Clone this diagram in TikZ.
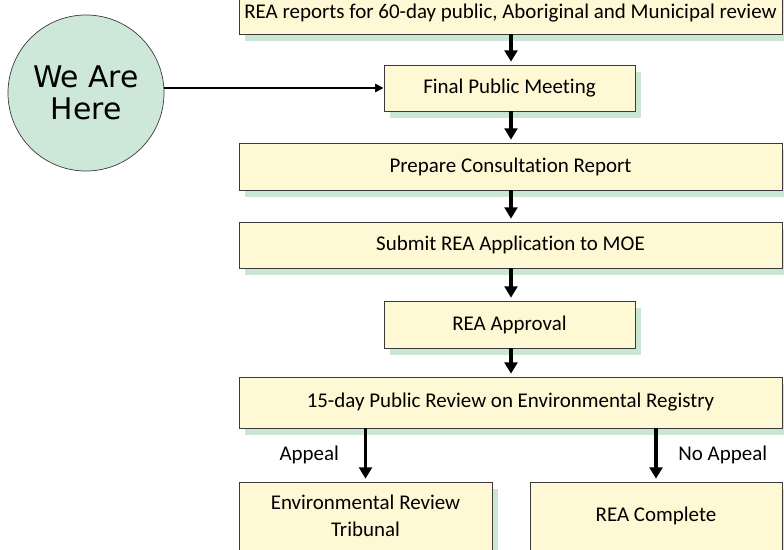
\documentclass[tikz,border=0pt]{standalone}
\usepackage{fontspec}
\setmainfont{Carlito}[Ligatures=NoCommon]
\newfontfamily\circlefont{DejaVu Sans}
\usetikzlibrary{arrows.meta,shadows}

\definecolor{boxfill}{HTML}{FFF8D4}
\definecolor{boxline}{HTML}{3A3A3A}
\definecolor{shadowgreen}{HTML}{C9E7D3}
\definecolor{herefill}{HTML}{CDE8D8}

\tikzset{
    stepbox/.style={draw=boxline, fill=boxfill, line width=0.7pt, align=center,
        font=\fontsize{14.9}{19}\selectfont, inner sep=0pt,
        drop shadow={shadow xshift=0.16cm, shadow yshift=-0.17cm, fill=shadowgreen, opacity=1}},
    flow/.style={line width=2.2pt, -{Triangle[length=8pt, width=9pt]}, shorten >=2pt},
}

\begin{document}
\begin{tikzpicture}[x=0.025cm, y=-0.025cm]
    \useasboundingbox (0,0) rectangle (784,550);
    % main column
    \node[stepbox, minimum width=543*0.025cm, minimum height=42*0.025cm] (reports) at (510.5,13)
        {REA reports for 60-day public, Aboriginal and Municipal review};
    \node[stepbox, minimum width=251*0.025cm, minimum height=46*0.025cm] (meeting) at (509.5,88)
        {Final Public Meeting};
    \node[stepbox, minimum width=543*0.025cm, minimum height=47*0.025cm] (prepare) at (510.5,166.5)
        {Prepare Consultation Report};
    \node[stepbox, minimum width=543*0.025cm, minimum height=46*0.025cm] (submit) at (510.5,245)
        {Submit REA Application to MOE};
    \node[stepbox, minimum width=251*0.025cm, minimum height=47*0.025cm] (approval) at (509.5,324.5)
        {REA Approval};
    \node[stepbox, minimum width=543*0.025cm, minimum height=51*0.025cm] (registry) at (510.5,402.5)
        {15-day Public Review on Environmental Registry};
    % outcomes
    \node[stepbox, minimum width=253*0.025cm, minimum height=68*0.025cm] (tribunal) at (365.5,516)
        {Environmental Review\\Tribunal};
    \node[stepbox, minimum width=252*0.025cm, minimum height=68*0.025cm] (complete) at (656,516)
        {REA Complete};
    % marker
    \node[circle, draw=boxline, fill=herefill, line width=0.5pt, minimum size=156*0.025cm,
        align=center, font=\circlefont\fontsize{21.2}{22.5}\selectfont, inner sep=0pt] (here) at (86,93)
        {We Are\\Here};

    \draw[line width=1.2pt, -{Triangle[length=6pt, width=6pt]}] (here.east |- meeting.west) -- (meeting.west);
    \draw[flow] (reports.south -| 511,0) -- (meeting.north -| 511,0);
    \draw[flow] (meeting.south -| 511,0) -- (prepare.north -| 511,0);
    \draw[flow] (prepare.south -| 511,0) -- (submit.north -| 511,0);
    \draw[flow] (submit.south -| 511,0) -- (approval.north -| 511,0);
    \draw[flow] (approval.south -| 511,0) -- (registry.north -| 511,0);
    \draw[flow] (registry.south -| tribunal) -- (tribunal.north)
        node[midway, left=14.4pt, font=\fontsize{14.9}{19}\selectfont] {Appeal};
    \draw[flow] (registry.south -| complete) -- (complete.north)
        node[midway, right=11.5pt, font=\fontsize{14.9}{19}\selectfont] {No Appeal};
\end{tikzpicture}
\end{document}
